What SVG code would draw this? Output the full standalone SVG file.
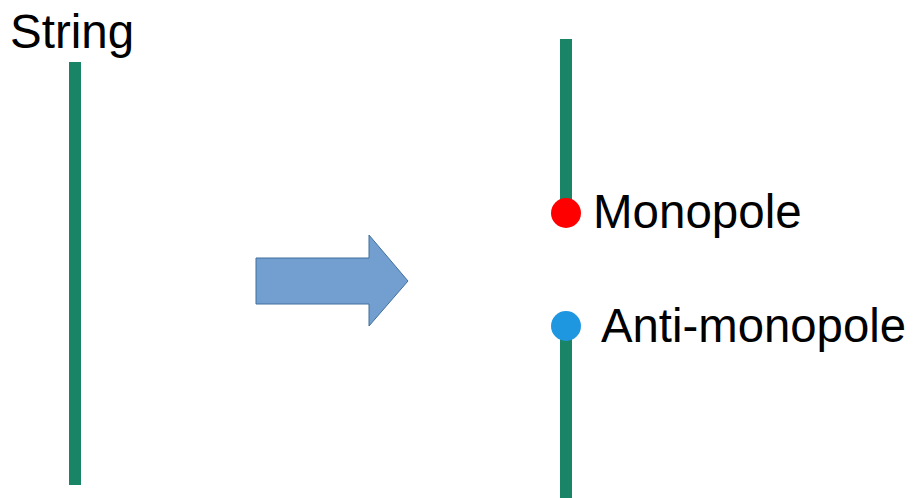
<svg xmlns="http://www.w3.org/2000/svg" width="913" height="498" viewBox="0 0 913 498">
<style>
.str{fill:#1a8466}
.lbl{font-family:"Liberation Sans",Arial,sans-serif;font-size:47.5px;fill:#000}
</style>
<rect width="913" height="498" fill="#fff"/>
<g id="string">
<rect class="str" x="69" y="62" width="12" height="423"/>
<text class="lbl" x="10" y="48">String</text>
</g>
<g id="arrow">
<polygon points="256,258 369,258 369,235 408,281 369,326 369,304 256,304" fill="#729fcf" stroke="#41719c" stroke-width="1"/>
</g>
<g id="upper-string">
<rect class="str" x="560" y="39" width="12" height="174"/>
</g>
<g id="lower-string">
<rect class="str" x="560" y="326" width="12" height="172"/>
</g>
<g id="monopole">
<circle cx="566" cy="213" r="15" fill="#ff0000"/>
<text class="lbl" x="593" y="228">Monopole</text>
</g>
<g id="anti-monopole">
<circle cx="566" cy="326" r="15" fill="#1f97e0"/>
<text class="lbl" x="601" y="342" textLength="305" lengthAdjust="spacingAndGlyphs">Anti-monopole</text>
</g>
</svg>
